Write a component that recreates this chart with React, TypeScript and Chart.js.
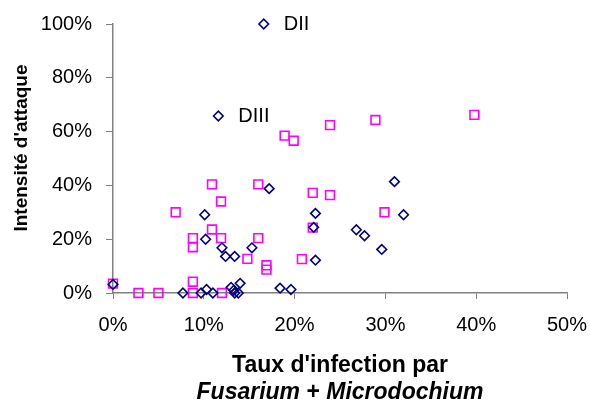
import React, { useEffect, useRef } from 'react';
import { Chart, registerables } from 'chart.js';

Chart.register(...registerables);

// Axis ticks (percent)
const xTickValues = [0, 10, 20, 30, 40, 50];
const yTickValues = [0, 20, 40, 60, 80, 100];

// Series 1: blue diamonds (x = taux d'infection %, y = intensité %)
const diamondX = [16.6, 11.6, 0, 10.1, 10.2, 17.2, 12.0, 12.4, 13.4, 15.3, 18.4, 19.6, 7.7, 9.7, 10.3, 11.0, 13.0, 13.4, 13.8, 14.0, 13.3, 31.0, 22.3, 22.1, 32.0, 26.8, 27.7, 29.6, 22.3];
const diamondY = [100, 65.8, 3.2, 29.1, 20.0, 38.8, 16.8, 13.6, 13.6, 16.8, 1.8, 1.3, 0, 0, 1.3, 0, 2.1, 0, 0, 3.6, 1.0, 41.4, 29.6, 24.4, 29.1, 23.5, 21.3, 16.2, 12.2];

// Series 2: pink squares
const squareX = [0, 2.8, 5.0, 6.9, 8.8, 8.8, 8.8, 8.8, 10.9, 11.9, 10.9, 11.9, 12.0, 16.0, 16.0, 14.8, 16.9, 16.9, 20.8, 22.0, 23.9, 22.0, 29.9, 18.9, 19.9, 23.9, 28.9, 39.8];
const squareY = [3.5, 0, 0, 30, 20.4, 17.0, 4.2, 0, 40.4, 34.0, 23.6, 20.4, 0, 40.4, 20.4, 12.7, 10.3, 8.7, 12.6, 37.2, 36.4, 24.3, 30.0, 58.5, 56.6, 62.4, 64.3, 66.2];

// Point annotations (index into diamond series)
const pointLabels = ['DII', 'DIII'];
const pointLabelIndex = [0, 1];

const yTitle = "Intensité d'attaque";
const xTitleLine1 = "Taux d'infection par";
const xTitleLine2 = [
  { text: 'Fusarium', italic: true },
  { text: ' + ', italic: false },
  { text: 'Microdochium', italic: true },
];

const FONT = '"Liberation Sans", Arial, sans-serif';

const toPoints = (xs: number[], ys: number[]) => xs.map((x, i) => ({ x, y: ys[i] }));

export default function App() {
  const canvasRef = useRef<HTMLCanvasElement | null>(null);

  useEffect(() => {
    const canvas = canvasRef.current;
    if (!canvas) return;

    const labelsPlugin = {
      id: 'extraText',
      afterDraw(chart: any) {
        const ctx = chart.ctx;
        const area = chart.chartArea;
        ctx.save();
        ctx.fillStyle = '#000';
        // point labels
        const meta = chart.getDatasetMeta(0);
        ctx.font = `20px ${FONT}`;
        ctx.textAlign = 'left';
        ctx.textBaseline = 'middle';
        pointLabels.forEach((lbl, k) => {
          const el = meta.data[pointLabelIndex[k]];
          if (el) ctx.fillText(lbl, el.x + 20, el.y);
        });
        // y title
        ctx.save();
        ctx.translate(22, area.top + 124);
        ctx.rotate(-Math.PI / 2);
        ctx.textAlign = 'center';
        ctx.font = `bold 19px ${FONT}`;
        ctx.fillText(yTitle, 0, 0);
        ctx.restore();
        // x title
        const cx = (area.left + area.right) / 2;
        ctx.textAlign = 'center';
        ctx.font = `bold 23px ${FONT}`;
        ctx.fillText(xTitleLine1, cx, area.bottom + 73);
        // line 2 mixed
        const fonts = xTitleLine2.map((p) => `${p.italic ? 'italic ' : ''}bold 23px ${FONT}`);
        const widths = xTitleLine2.map((p, i) => {
          ctx.font = fonts[i];
          return ctx.measureText(p.text).width;
        });
        const total = widths.reduce((a, b) => a + b, 0);
        let x = cx - total / 2;
        ctx.textAlign = 'left';
        xTitleLine2.forEach((p, i) => {
          ctx.font = fonts[i];
          ctx.fillText(p.text, x, area.bottom + 100);
          x += widths[i];
        });
        ctx.restore();
      },
    };

    const chart = new Chart(canvas, {
      type: 'scatter',
      data: {
        datasets: [
          {
            label: 'A',
            data: toPoints(diamondX, diamondY),
            pointStyle: 'rectRot',
            radius: 4.8,
            borderWidth: 1.6,
            borderColor: '#000080',
            backgroundColor: 'rgba(255,255,255,0)',
            clip: false as any,
          },
          {
            label: 'B',
            data: toPoints(squareX, squareY),
            pointStyle: 'rect',
            radius: 6.2,
            borderWidth: 1.6,
            borderColor: '#FF00FF',
            backgroundColor: 'rgba(255,255,255,0)',
            clip: false as any,
          },
        ],
      },
      plugins: [labelsPlugin],
      options: {
        animation: false,
        responsive: false,
        events: [],
        layout: { padding: { top: 24, right: 23, left: 0, bottom: 0 } },
        plugins: {
          legend: { display: false },
          tooltip: { enabled: false },
        },
        scales: {
          x: {
            type: 'linear',
            min: 0,
            max: 50,
            afterBuildTicks: (s: any) => {
              s.ticks = xTickValues.map((v) => ({ value: v }));
            },
            afterFit: (s: any) => {
              s.height = 115;
              s.paddingLeft = 0;
              s.paddingRight = 0;
            },
            grid: {
              drawOnChartArea: false,
              drawTicks: true,
              tickLength: 6,
              color: '#808080',
            },
            border: { display: true, color: '#808080', width: 1.5 },
            ticks: {
              padding: 14,
              color: '#000',
              font: { family: FONT, size: 20 },
              maxRotation: 0,
              callback: (v: any) => `${v}%`,
            },
          },
          y: {
            type: 'linear',
            min: 0,
            max: 100,
            afterBuildTicks: (s: any) => {
              s.ticks = yTickValues.map((v) => ({ value: v }));
            },
            afterFit: (s: any) => {
              s.width = 113;
              s.paddingTop = 0;
              s.paddingBottom = 0;
            },
            grid: {
              drawOnChartArea: false,
              drawTicks: true,
              tickLength: 7,
              color: '#808080',
            },
            border: { display: true, color: '#808080', width: 1.5 },
            ticks: {
              padding: 14,
              color: '#000',
              font: { family: FONT, size: 20 },
              callback: (v: any) => `${v}%`,
            },
          },
        },
      },
    });

    return () => chart.destroy();
  }, []);

  return (
    <div style={{ position: 'fixed', left: 0, top: 0, width: 590, height: 408, background: '#fff' }}>
      <canvas ref={canvasRef} width={590} height={408} style={{ width: 590, height: 408, display: 'block' }} />
    </div>
  );
}
